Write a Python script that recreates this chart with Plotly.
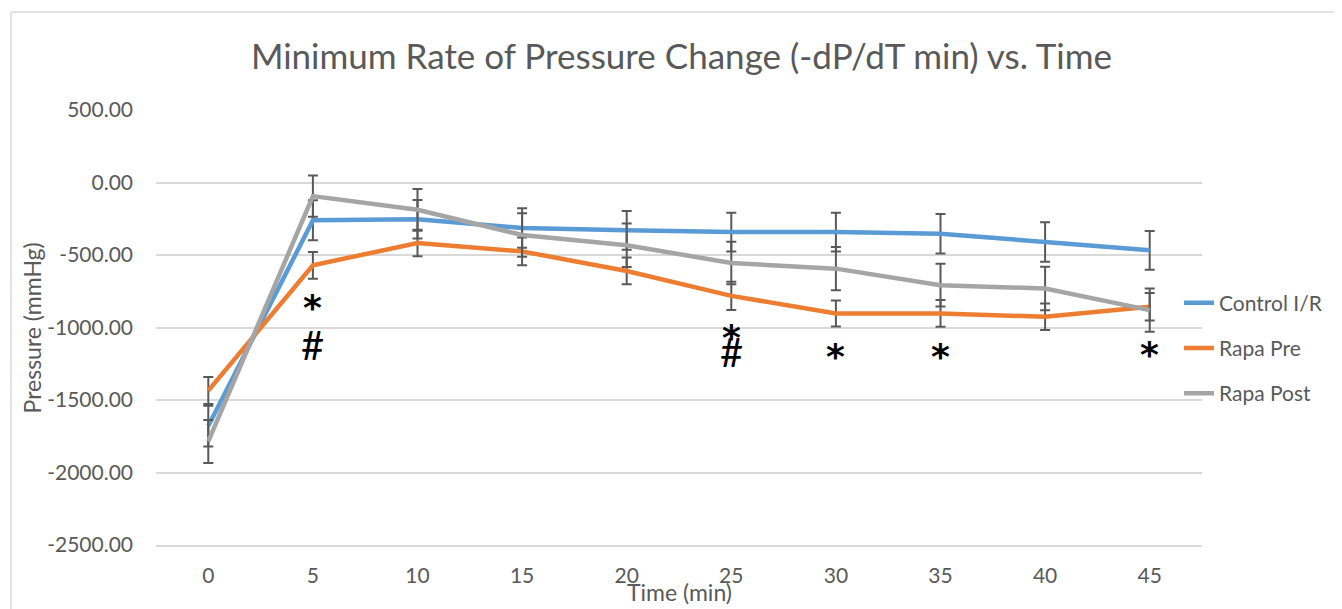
import plotly.graph_objects as go

time_min = [0, 5, 10, 15, 20, 25, 30, 35, 40, 45]

control_ir = [-1680, -261, -254, -314, -330, -342, -342, -353, -410, -468]
control_ir_err = [141, 138, 133, 136, 134, 134, 134, 136, 136, 134]

rapa_pre = [-1435, -571, -417, -475, -610, -782, -903, -903, -926, -857]
rapa_pre_err = [93, 92, 92, 95, 92, 97, 90, 92, 92, 95]

rapa_post = [-1786, -94, -188, -362, -433, -555, -594, -708, -731, -880]
rapa_post_err = [148, 143, 144, 150, 150, 147, 149, 147, 150, 149]

y_tickvals = [500, 0, -500, -1000, -1500, -2000, -2500]
y_ticktext = ["500.00", "0.00", "-500.00", "-1000.00", "-1500.00", "-2000.00", "-2500.00"]

# significance markers: (time, y, text)
sig_time = [5, 5, 25, 25, 30, 35, 45]
sig_y = [-859, -1121, -1072, -1170, -1197, -1197, -1183]
sig_text = ["*", "#", "*", "#", "*", "*", "*"]

FONT = "Lato"
TXT = "#595959"
ERR = "#595959"

series = [
    ("Control I/R", control_ir, control_ir_err, "#5B9BD5"),
    ("Rapa Pre", rapa_pre, rapa_pre_err, "#ED7D31"),
    ("Rapa Post", rapa_post, rapa_post_err, "#A5A5A5"),
]

W, H = 1334, 601  # page body has an 8px margin

fig = go.Figure()
for i, (name, vals, errs, col) in enumerate(series):
    fig.add_trace(go.Scatter(
        x=time_min, y=vals, name=name, mode="lines",
        line=dict(color=col, width=4.5),
        error_y=dict(type="data", array=errs, visible=True,
                     color=ERR, thickness=2, width=5),
        legendgroup=name,
    ))

annotations = []
for t, yv, s in zip(sig_time, sig_y, sig_text):
    if s == "*":
        f = dict(family="DejaVu Sans", size=36, color="black", weight="bold")
    else:
        f = dict(family=FONT, size=40, color="black")
    annotations.append(dict(x=t, y=yv, xref="x", yref="y", text=s,
                            showarrow=False, xanchor="center", yanchor="middle",
                            font=f))
annotations.append(dict(x=0.5, y=-0.108, xref="paper", yref="paper",
                        xanchor="center", yanchor="middle",
                        text="Time (min)", showarrow=False,
                        font=dict(family=FONT, size=23, color=TXT)))
annotations.append(dict(x=-0.1186, y=0.5, xref="paper", yref="paper",
                        xanchor="center", yanchor="middle",
                        text="Pressure (mmHg)", textangle=-90, showarrow=False,
                        font=dict(family=FONT, size=23, color=TXT)))

fig.update_layout(
    width=W, height=H,
    margin=dict(l=148, r=140, t=102, b=64),
    paper_bgcolor="white", plot_bgcolor="white",
    title=dict(text="Minimum Rate of Pressure Change (-dP/dT min) vs. Time",
               x=673.5 / W, xref="container", xanchor="center",
               y=1 - 49 / H, yref="container", yanchor="middle",
               font=dict(family=FONT, size=35, color=TXT)),
    font=dict(family=FONT, color=TXT),
    showlegend=True,
    legend=dict(x=0.978, xanchor="left", y=0.6035, yanchor="top",
                font=dict(family=FONT, size=21, color=TXT),
                traceorder="grouped", tracegroupgap=15,
                bgcolor="rgba(0,0,0,0)"),
    annotations=annotations,
    shapes=[
        dict(type="line", xref="paper", yref="paper",
             x0=-0.1386, x1=1.2, y0=1.2253, y1=1.2253,
             line=dict(color="#D9D9D9", width=1.5)),
        dict(type="line", xref="paper", yref="paper",
             x0=-0.1386, x1=-0.1386, y0=1.2253, y1=-0.2,
             line=dict(color="#D9D9D9", width=1.5)),
    ],
)

fig.update_xaxes(
    range=[-2.5, 47.5], tickvals=time_min, ticktext=[str(t) for t in time_min],
    showgrid=False, zeroline=False, showline=True, linecolor="#D9D9D9", linewidth=1.5,
    ticks="", ticklabelstandoff=11,
    tickfont=dict(family=FONT, size=21, color=TXT),
)
fig.update_yaxes(
    range=[-2500, 500], tickvals=y_tickvals, ticktext=y_ticktext,
    showgrid=True, gridcolor="#D9D9D9", gridwidth=1.5, zeroline=False,
    showline=False, ticks="", ticklabelstandoff=22,
    tickfont=dict(family=FONT, size=21, color=TXT),
)

fig.write_html("out.html")
